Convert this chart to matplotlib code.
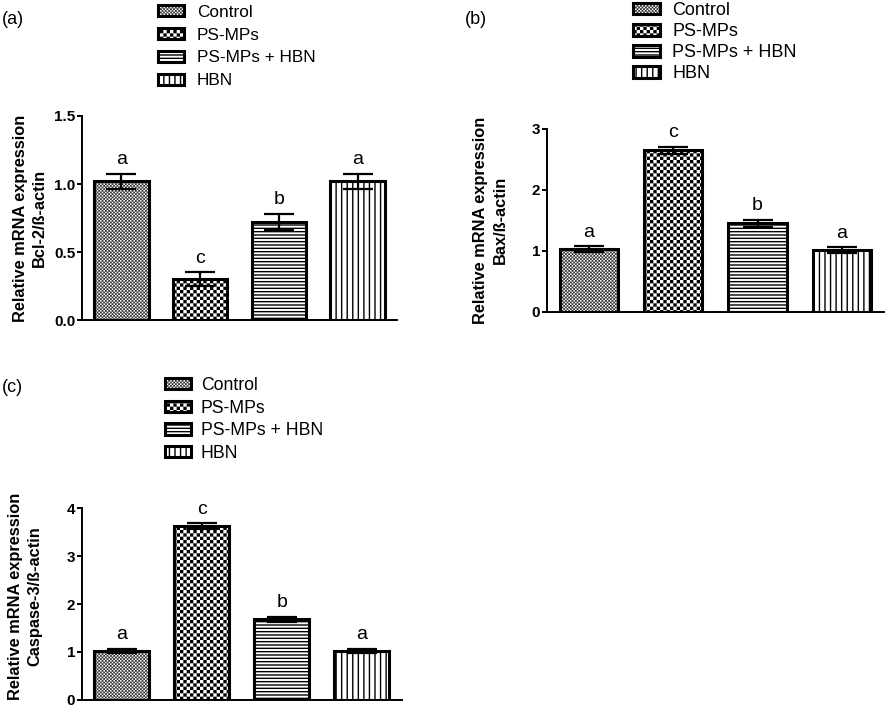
import warnings
import numpy as np
import matplotlib
matplotlib.use('Agg')
import matplotlib.pyplot as plt
import matplotlib.hatch as mhatch
from matplotlib.path import Path

warnings.filterwarnings('ignore')

groups = ['Control', 'PS-MPs', 'PS-MPs + HBN', 'HBN']
hatches = ['cccccc', 'ccc', '-----', '|||']

bcl2_mean = [1.02, 0.30, 0.72, 1.02]
bcl2_err = [0.055, 0.05, 0.06, 0.055]
bcl2_letters = ['a', 'c', 'b', 'a']

bax_mean = [1.03, 2.65, 1.45, 1.01]
bax_err = [0.045, 0.06, 0.06, 0.05]
bax_letters = ['a', 'c', 'b', 'a']

casp3_mean = [1.02, 3.63, 1.68, 1.02]
casp3_err = [0.05, 0.06, 0.05, 0.05]
casp3_letters = ['a', 'c', 'b', 'a']

plt.rcParams['font.family'] = ['Liberation Sans', 'DejaVu Sans']
plt.rcParams['hatch.linewidth'] = 1.0


class CheckerHatch(mhatch.HatchPatternBase):
    # 'c' in a hatch string -> filled checkerboard, 10 cells per inch for each 'c'
    def __init__(self, hatch, density):
        self.n = hatch.count('c') * 10
        self.num_vertices = (self.n * self.n // 2) * 5

    def set_vertices_and_codes(self, vertices, codes):
        s = 1.0 / self.n
        d = plt.rcParams['hatch.linewidth'] / 72 / 2
        k = 0
        for i in range(self.n):
            for j in range(self.n):
                if (i + j) % 2:
                    continue
                x0, y0 = i * s + d, j * s + d
                x1, y1 = (i + 1) * s - d, (j + 1) * s - d
                vertices[k:k + 5] = [(x0, y0), (x1, y0), (x1, y1), (x0, y1), (x0, y0)]
                codes[k:k + 5] = [Path.MOVETO, Path.LINETO, Path.LINETO, Path.LINETO, Path.CLOSEPOLY]
                k += 5


mhatch._hatch_types.append(CheckerHatch)

fig = plt.figure(figsize=(8.86, 7.07), dpi=100)


def draw_panel(rect, means, errs, letters, ymax, yticks, fmt, ylabel, label_x, label_y,
               tag, tag_xy, leg_xy, leg_fs, leg_spacing, leg_pad):
    ax = fig.add_axes(rect)
    x = np.arange(len(groups))
    for i in range(len(groups)):
        ax.bar(x[i], means[i], 0.69, yerr=errs[i], color='white', edgecolor='black',
               linewidth=2.2, hatch=hatches[i], label=groups[i],
               error_kw=dict(ecolor='black', elinewidth=1.6, capsize=11, capthick=1.6))
        ax.annotate(letters[i], (x[i], means[i] + errs[i]), xytext=(0, 4),
                    textcoords='offset points', ha='center', va='bottom', fontsize=14)
    ax.set_xlim(-0.5, 3.5)
    ax.set_ylim(0, ymax)
    ax.set_yticks(yticks)
    ax.set_yticklabels([fmt.format(v) for v in yticks], fontweight='bold')
    ax.set_xticks([])
    ax.spines['top'].set_visible(False)
    ax.spines['right'].set_visible(False)
    for s in ['left', 'bottom']:
        ax.spines[s].set_linewidth(1.4)
    ax.tick_params(axis='y', direction='out', length=3.6, width=1.4, labelsize=11, pad=1)
    ax.set_ylabel(ylabel, fontsize=11.8, fontweight='bold', linespacing=1.35)
    ax.yaxis.set_label_coords(label_x, label_y)
    fig.text(tag_xy[0] / 886, 1 - tag_xy[1] / 707, tag, fontsize=13, va='center', ha='left')
    ax.legend(loc='upper left', bbox_to_anchor=(leg_xy[0] / 886, 1 - leg_xy[1] / 707),
              bbox_transform=fig.transFigure, frameon=False, borderpad=0, borderaxespad=0,
              handlelength=1.5, handleheight=0.6, handletextpad=leg_pad,
              labelspacing=leg_spacing, fontsize=leg_fs)
    return ax


draw_panel([82 / 886, 1 - 320 / 707, 315 / 886, 204 / 707], bcl2_mean, bcl2_err, bcl2_letters,
           1.5, [0.0, 0.5, 1.0, 1.5], '{:.1f}', 'Relative mRNA expression\nBcl-2/ß-actin',
           -0.11, 0.5, '(a)', (2, 19), (158, 5), 12.4, 0.45, 0.76)

draw_panel([546.7 / 886, 1 - 311.7 / 707, 337.3 / 886, 182.7 / 707], bax_mean, bax_err, bax_letters,
           3, [0, 1, 2, 3], '{:.0f}', 'Relative mRNA expression\nBax/ß-actin',
           -0.116, 0.5, '(b)', (465, 20), (633, 2), 13, 0.23, 0.67)

draw_panel([81.7 / 886, 1 - 699.7 / 707, 320 / 886, 191.4 / 707], casp3_mean, casp3_err, casp3_letters,
           4, [0, 1, 2, 3, 4], '{:.0f}', 'Relative mRNA expression\nCaspase-3/ß-actin',
           -0.122, 0.54, '(c)', (2, 388), (165, 377), 12.7, 0.32, 0.53)

fig.savefig('out.png', dpi=100)
